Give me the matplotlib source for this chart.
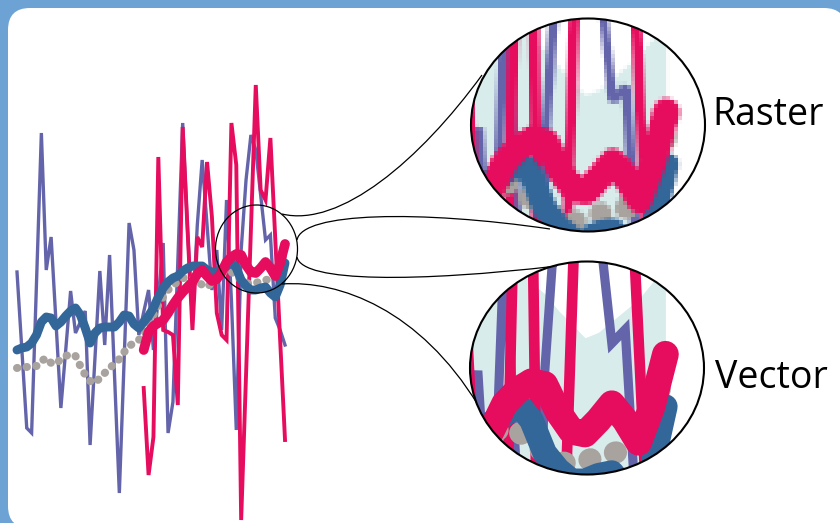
import numpy as np
import matplotlib
matplotlib.use('Agg')
import matplotlib.pyplot as plt
from matplotlib.patches import Ellipse, FancyBboxPatch, PathPatch
from matplotlib.path import Path
from matplotlib.figure import Figure
from matplotlib.backends.backend_agg import FigureCanvasAgg

# data (arbitrary units)
years = np.arange(1950, 2006)
years_new = years[26:]
annual = [251, 173, 95, 90, 240, 390, 253, 286, 201, 115,
          173, 232, 190, 201, 212, 78, 165, 252, 178, 268,
          149, 30, 165, 300, 273, 188, 211, 233, 173, 226,
          280, 90, 121, 261, 400, 293, 203, 298, 363, 298,
          233, 273, 193, 323, 223, 93, 273, 343, 388, 373,
          328, 283, 288, 205, 193, 178]
annual_new = [135, 48, 86, 366, 193, 191, 188, 118, 396, 293,
              193, 286, 276, 361, 306, 210, 188, 183, 400, 358,
              3, 148, 293, 438, 333, 323, 385, 284, 183, 83]
smooth = [173, 175, 176, 180, 188, 201, 206, 205, 197, 201,
          207, 212, 215, 208, 195, 180, 190, 195, 196, 196,
          196, 201, 208, 207, 199, 195, 201, 207, 215, 226,
          235, 241, 245, 247, 252, 255, 257, 257, 257, 253,
          251, 251, 254, 257, 261, 255, 243, 237, 233, 233,
          235, 236, 230, 226, 238, 260]
smooth_ref = [155, 156, 156, 157, 157, 162, 165, 160, 159, 164,
              167, 169, 167, 157, 148, 142, 140, 145, 150, 155,
              159, 164, 171, 177, 180, 183, 189, 198, 208, 218,
              226, 233, 238, 241, 245, 245, 244, 242, 238, 236,
              240, 245, 250, 253, 251, 247, 243, 240, 239, 240,
              242, 243, 244, 251, 261, 270]
smooth_new = [173, 191, 197, 200, 203, 210, 218, 225, 231, 236,
              241, 249, 253, 247, 242, 244, 251, 261, 266, 269,
              268, 258, 251, 250, 255, 261, 255, 247, 260, 279]
band_years = years[40:]
band_hi = [323, 318, 315, 313, 310, 305, 301, 295, 290, 285,
           287, 291, 295, 299, 305, 311]
band_lo = [140] * 16

PURPLE = '#6464aa'
PINK = '#e60c5e'
BLUE = '#336699'
GREY = '#a8a39e'
TEAL = '#d9ecec'
FRAME = '#6ca2d4'

W, H = 840, 523
px_per_year = 4.873
x_first = 17
zoom = 2.75
small_c = (256.5, 249)       # small circle, pixels
raster_c = (588, 125)
vector_c = (587, 368)
big_w, big_h = 234, 213

xlim_main = (1950 - x_first / px_per_year, 1950 + (W - x_first) / px_per_year)
zx = 1950 + (small_c[0] - x_first) / px_per_year
zy = H - small_c[1]
xlim_zoom = (zx - big_w / 2 / zoom / px_per_year, zx + big_w / 2 / zoom / px_per_year)
ylim_zoom = (zy - big_h / 2 / zoom, zy + big_h / 2 / zoom)


def draw_series(ax, k, band=False):
    arts = []
    if band:
        arts.append(ax.fill_between(band_years, band_lo, band_hi, color=TEAL, lw=0, zorder=1))
    arts += ax.plot(years, annual, color=PURPLE, lw=2.4 * k, zorder=2, solid_joinstyle='miter')
    arts += ax.plot(years_new, annual_new, color=PINK, lw=2.8 * k, zorder=3, solid_joinstyle='miter')
    arts += ax.plot(years, smooth_ref, color=GREY, lw=5.8 * k, ls=(0, (0.05, 1.15)),
                    dash_capstyle='round', zorder=4)
    arts += ax.plot(years, smooth, color=BLUE, lw=6.4 * k, zorder=5, solid_capstyle='round')
    arts += ax.plot(years_new, smooth_new, color=PINK, lw=7.0 * k, zorder=6, solid_capstyle='round')
    return arts


fig = plt.figure(figsize=(W / 100, H / 100), dpi=100)
fig.patch.set_facecolor(FRAME)

bg = fig.add_axes([0, 0, 1, 1], zorder=0)
bg.set_xlim(0, W)
bg.set_ylim(H, 0)
bg.axis('off')
bg.add_patch(FancyBboxPatch((8, 8), 838, 520, boxstyle='round,pad=0,rounding_size=22',
                            fc='white', ec='none'))

ax = fig.add_axes([0, 0, 1, 1], zorder=1)
ax.patch.set_alpha(0)
draw_series(ax, 1.0)
ax.set_xlim(*xlim_main)
ax.set_ylim(0, H)
ax.axis('off')

deco = fig.add_axes([0, 0, 1, 1], zorder=2)
deco.patch.set_alpha(0)
deco.set_xlim(0, W)
deco.set_ylim(H, 0)
deco.axis('off')
deco.add_patch(Ellipse(small_c, 82, 88, fc='none', ec='black', lw=0.9))

curves = [
    [(282, 214), (340, 228), (420, 160), (482, 75)],
    [(297, 240), (302, 212), (420, 210), (550, 229)],
    [(297, 257), (302, 283), (420, 282), (557, 266)],
    [(282, 284), (340, 280), (420, 310), (478, 405)],
]
for c in curves:
    p = Path(c, [Path.MOVETO, Path.CURVE4, Path.CURVE4, Path.CURVE4])
    deco.add_patch(PathPatch(p, fc='none', ec='black', lw=0.9))

deco.text(712, 115, 'Raster', fontsize=27, va='center', ha='left', family='Open Sans')
deco.text(715, 378, 'Vector', fontsize=27, va='center', ha='left', family='Open Sans')


def inset(center):
    return fig.add_axes([(center[0] - big_w / 2) / W, 1 - (center[1] + big_h / 2) / H,
                         big_w / W, big_h / H], zorder=3)


# vector zoom
axv = inset(vector_c)
clip_v = Ellipse((0.5, 0.5), 1, 1, transform=axv.transAxes)
axv.set_facecolor('white')
axv.patch.set_clip_path(clip_v)
for a in draw_series(axv, zoom, band=True):
    a.set_clip_path(clip_v)
axv.set_xlim(*xlim_zoom)
axv.set_ylim(*ylim_zoom)
axv.axis('off')
axv.add_patch(Ellipse((0.5, 0.5), 1, 1, transform=axv.transAxes, fc='none', ec='black',
                      lw=1.5, clip_on=False, zorder=10))

# raster zoom: render small, then blow up
rw, rh = 60, 55
small = Figure(figsize=(rw / 100, rh / 100), dpi=100)
FigureCanvasAgg(small)
sa = small.add_axes([0, 0, 1, 1])
draw_series(sa, zoom * rw / big_w, band=True)
sa.set_xlim(*xlim_zoom)
sa.set_ylim(*ylim_zoom)
sa.axis('off')
small.canvas.draw()
img = np.asarray(small.canvas.buffer_rgba())

axr = inset(raster_c)
clip_r = Ellipse((0.5, 0.5), 1, 1, transform=axr.transAxes)
im = axr.imshow(img, extent=(0, 1, 0, 1), aspect='auto', interpolation='nearest')
im.set_clip_path(clip_r)
axr.set_xlim(0, 1)
axr.set_ylim(0, 1)
axr.axis('off')
axr.add_patch(Ellipse((0.5, 0.5), 1, 1, transform=axr.transAxes, fc='none', ec='black',
                      lw=1.5, clip_on=False, zorder=10))

fig.savefig('out.png', dpi=100, facecolor=FRAME)
